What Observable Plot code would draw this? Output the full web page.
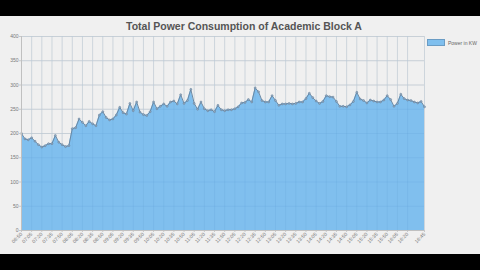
<!DOCTYPE html>
<html>
<head>
<meta charset="utf-8">
<script src="https://cdn.jsdelivr.net/npm/d3@7"></script>
<script src="https://cdn.jsdelivr.net/npm/@observablehq/plot@0.6"></script>
<style>
  html, body { margin: 0; padding: 0; background: #000; width: 480px; height: 270px; overflow: hidden; }
  #panel { position: absolute; left: 0; top: 16px; width: 480px; height: 238px; background: #f0f0f0; }
  #title { position: absolute; left: 0; width: 488px; top: 4px; text-align: center; font: bold 10.5px "Liberation Sans", Arial, sans-serif; color: #555; }
  #legend { position: absolute; left: 427px; top: 23px; font: 5px "Liberation Sans", Arial, sans-serif; color: #666; display: flex; align-items: center; }
  #legend .sw { width: 16px; height: 5px; background: #7fbfee; border: 1px solid #6a9cc4; margin-right: 3px; }
  #chart { position: absolute; left: 0; top: 0; }
</style>
</head>
<body>
<div id="panel">
  <div id="chart"></div>
  <div id="title">Total Power Consumption of Academic Block A</div>
  <div id="legend"><div class="sw"></div><span>Power in KW</span></div>
</div>
<script>
const times = [
  "06:50","06:55",
  "07:00","07:05","07:10","07:15","07:20","07:25","07:30","07:35","07:40","07:45","07:50","07:55",
  "08:00","08:05","08:10","08:15","08:20","08:25","08:30","08:35","08:40","08:45","08:50","08:55",
  "09:00","09:05","09:10","09:15","09:20","09:25","09:30","09:35","09:40","09:45","09:50","09:55",
  "10:00","10:05","10:10","10:15","10:20","10:25","10:30","10:35","10:40","10:45","10:50","10:55",
  "11:00","11:05","11:10","11:15","11:20","11:25","11:30","11:35","11:40","11:45","11:50","11:55",
  "12:00","12:05","12:10","12:15","12:20","12:25","12:30","12:35","12:40","12:45","12:50","12:55",
  "13:00","13:05","13:10","13:15","13:20","13:25","13:30","13:35","13:40","13:45","13:50","13:55",
  "14:00","14:05","14:10","14:15","14:20","14:25","14:30","14:35","14:40","14:45","14:50","14:55",
  "15:00","15:05","15:10","15:15","15:20","15:25","15:30","15:35","15:40","15:45","15:50","15:55",
  "16:00","16:05","16:10","16:15","16:20","16:25","16:30","16:35","16:40","16:45"
];
const powerKW = [
  200,189,187,191,184,177,172,175,179,179,
  196,182,177,173,175,210,212,230,223,216,
  225,220,216,238,245,233,228,230,238,254,
  243,240,262,247,265,244,239,237,245,265,
  251,256,261,256,265,267,261,280,262,268,
  291,262,250,265,251,247,249,245,258,249,
  247,249,249,251,255,263,264,270,265,294,
  286,268,265,265,278,268,258,261,261,262,
  261,262,265,265,272,283,274,267,262,266,
  278,276,275,266,256,256,255,259,266,285,
  271,268,263,269,267,265,265,269,278,270,
  256,262,281,272,269,268,265,263,266,255
];
const xTickLabels = [
  "06:50","07:05","07:20","07:35","07:50","08:05","08:20","08:35","08:50","09:05",
  "09:20","09:35","09:50","10:05","10:20","10:35","10:50","11:05","11:20","11:35",
  "11:50","12:05","12:20","12:35","12:50","13:05","13:20","13:35","13:50","14:05",
  "14:20","14:35","14:50","15:05","15:20","15:35","15:50","16:05","16:20","16:45"
];
const yTicks = [0, 50, 100, 150, 200, 250, 300, 350, 400];

const data = times.map((t, i) => ({i, t, v: powerKW[i]}));
const xTickIdx = xTickLabels.map(t => times.indexOf(t));

const chart = Plot.plot({
  width: 480,
  height: 238,
  marginTop: 20,
  marginBottom: 24,
  marginLeft: 21,
  marginRight: 56,
  style: { background: "transparent", fontSize: "5px", fontFamily: "'Liberation Sans', Arial, sans-serif", color: "#777" },
  x: { type: "linear", domain: [0, times.length - 1], label: null },
  y: { domain: [0, 400], label: null },
  marks: [
    Plot.gridY(yTicks, { stroke: "#dadada", strokeOpacity: 1 }),
    Plot.gridX(xTickIdx, { stroke: "#e0e0e0", strokeOpacity: 1 }),
    Plot.areaY(data, { x: "i", y: "v", fill: "#80bfee" }),
    Plot.gridX(xTickIdx, { stroke: "#4a8cc8", strokeOpacity: 0.12 }),
    Plot.gridY(yTicks.filter(d => d > 0), { stroke: "#4a8cc8", strokeOpacity: 0.12 }),
    Plot.lineY(data, { x: "i", y: "v", stroke: "#6a88a3", strokeWidth: 1 }),
    Plot.dot(data, { x: "i", y: "v", r: 1, fill: "#93aac0", stroke: "#647f98", strokeWidth: 0.5 }),
    Plot.axisX(xTickIdx, { tickFormat: i => times[i], tickRotate: -45, tickSize: 2, tickPadding: 1, stroke: "#c8c8c8", fill: "#777" }),
    Plot.axisY(yTicks, { tickSize: 2, tickPadding: 1, stroke: "#c8c8c8", fill: "#777" }),
    Plot.ruleX([0], { stroke: "#c0c0c0" }),
    Plot.ruleY([0], { stroke: "#c0c0c0" })
  ]
});
document.getElementById("chart").appendChild(chart);
</script>
</body>
</html>
